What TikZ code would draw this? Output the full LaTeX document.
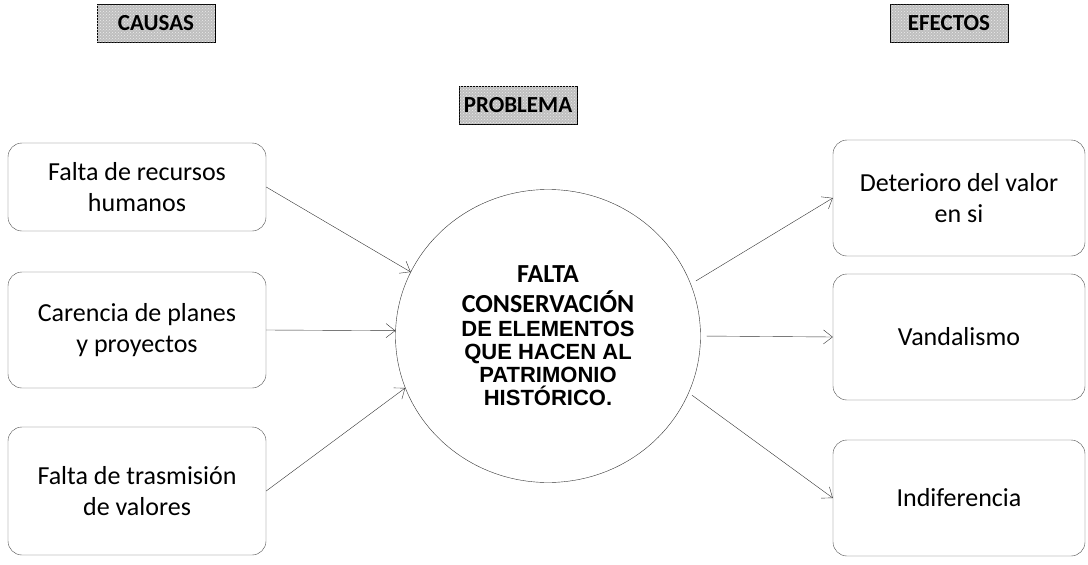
\documentclass[tikz,border=0pt]{standalone}
\usepackage{fontspec}
\setmainfont{Carlito}
\newfontfamily\arialfont{Liberation Sans}
\usetikzlibrary{arrows.meta, patterns, shapes.geometric}
\newcommand{\carlitobf}[1]{{\rmfamily\bfseries\fontsize{26}{30}\selectfont #1}}

\begin{document}
\begin{tikzpicture}[x=1pt,y=-1pt]
	\tikzstyle{titulo}=[draw, thick, fill=gray!50, postaction={pattern=crosshatch dots, pattern color=white!85!gray},
		font=\bfseries\fontsize{23}{23}\selectfont, minimum width=118pt, minimum height=38pt, inner xsep=3pt]
	\tikzstyle{cajita}=[draw=black!70, rounded corners=14pt, align=center, font=\fontsize{26}{31}\selectfont, minimum width=258pt]
	\tikzstyle{flecha}=[draw=black!80, -{Straight Barb[length=9pt,width=14pt]}]
	\useasboundingbox (0,0) rectangle (1088,565);
	\node (causas) [titulo] at (156,23) {CAUSAS};
	\node (efectos) [titulo] at (949,23) {EFECTOS};
	\node (problema) [titulo] at (518,105) {PROBLEMA};
	% causas
	\node (ca1) [cajita, minimum height=88pt] at (137,187) {Falta de recursos\\humanos};
	\node (ca2) [cajita, minimum height=116pt] at (137,330) {Carencia de planes\\y proyectos};
	\node (ca3) [cajita, minimum height=128pt] at (137,491) {Falta de trasmisión\\de valores};
	% efectos
	\node (ef1) [cajita, minimum width=252pt, minimum height=116pt] at (959,198) {Deterioro del valor\\en si};
	\node (ef2) [cajita, minimum width=252pt, minimum height=126pt] at (959,337) {Vandalismo};
	\node (ef3) [cajita, minimum width=252pt, minimum height=116pt] at (959,498) {Indiferencia};
	% problema
	\node (circ) [ellipse, draw=black!80, minimum width=305pt, minimum height=293pt, align=center,
		font=\arialfont\bfseries\fontsize{22}{23}\selectfont] at (548,336)
		{\carlitobf{FALTA}\\[7pt]\carlitobf{CONSERVACIÓN}\\[1pt]DE ELEMENTOS\\QUE HACEN AL\\PATRIMONIO\\HISTÓRICO.};
	\draw[flecha] (ca1.east) -- (circ.155);
	\draw[flecha] (ca2.east) -- (circ.178);
	\draw[flecha] (ca3.east) -- (circ.200);
	\draw[flecha, shorten <=6pt] (circ.20) -- (ef1.west);
	\draw[flecha, shorten <=6pt] (circ.0) -- (ef2.west);
	\draw[flecha, shorten <=4pt] (circ.338) -- (ef3.west);
\end{tikzpicture}
\end{document}
